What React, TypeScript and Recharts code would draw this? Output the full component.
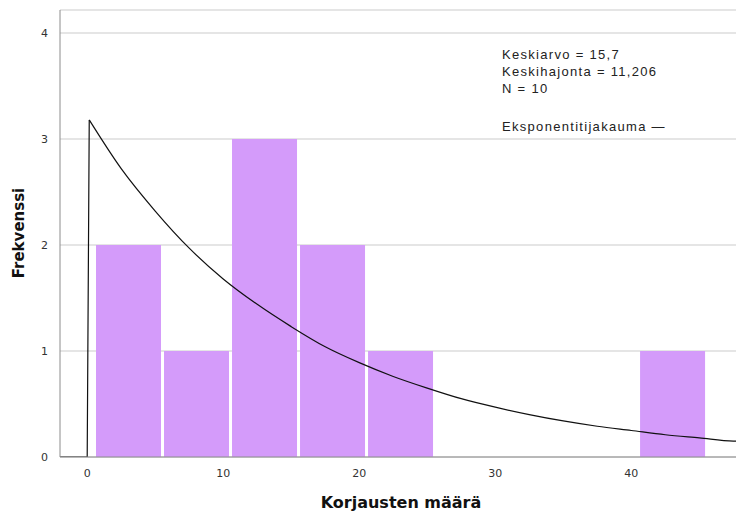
import { ComposedChart, Bar, Line, XAxis, YAxis, CartesianGrid } from 'recharts';

// histogram bins (centres of 0.5–5.5, 5.5–10.5, ...) and counts
const binCenters = [3, 8, 13, 18, 23, 28, 33, 38, 43];
const binCounts = [2, 1, 3, 2, 1, 0, 0, 0, 1];

// fitted exponential curve
const riseX = [-2, 0, 0.15];
const riseY = [0, 0, 3.18];
const curveX = [0.15, 2.5, 5, 7.5, 10, 12.5, 15, 17.5, 20, 22.5, 25, 27.5, 30, 32.5, 35, 37.5, 40, 42.5, 45, 47.5, 48];
const curveY = [3.18, 2.72, 2.32, 1.97, 1.68, 1.44, 1.23, 1.04, 0.89, 0.76, 0.65, 0.55, 0.47, 0.4, 0.34, 0.29, 0.25, 0.21, 0.18, 0.15, 0.15];

const xTicks = [0, 10, 20, 30, 40];
const yTicks = [0, 1, 2, 3, 4];

const statLines = ['Keskiarvo = 15,7', 'Keskihajonta = 11,206', 'N = 10'];

const bins = binCenters.map((x, i) => ({ x, count: binCounts[i] }));
const rise = riseX.map((x, i) => ({ x, y: riseY[i] }));
const curve = curveX.map((x, i) => ({ x, y: curveY[i] }));

const xDomain: [number, number] = [-2, 47.7];
const tickStyle = { fontFamily: 'DejaVu Sans', fontSize: 11, fill: '#333' };
const statStyle = {
  position: 'absolute' as const,
  left: 502,
  fontFamily: 'Liberation Sans, Arial',
  fontSize: 13,
  letterSpacing: 1.3,
  color: '#222',
  whiteSpace: 'nowrap' as const,
  lineHeight: '17px',
};

export default function App() {
  return (
    <div style={{ position: 'absolute', left: 0, top: 0, width: 736, height: 518, background: '#fff' }}>
      <ComposedChart
        width={736}
        height={518}
        data={bins}
        margin={{ top: 10, right: 0, left: 0, bottom: 0 }}
      >
        <CartesianGrid vertical={false} stroke="#dcdcdc" strokeWidth={1.5} />
        <XAxis
          xAxisId="bins"
          dataKey="x"
          type="number"
          domain={xDomain}
          allowDataOverflow
          hide
        />
        <XAxis
          dataKey="x"
          type="number"
          domain={xDomain}
          allowDataOverflow
          ticks={xTicks}
          tickLine={false}
          axisLine={{ stroke: '#8c8c8c' }}
          tick={tickStyle}
          tickMargin={6}
          height={61}
        />
        <YAxis
          type="number"
          domain={[0, 4.217]}
          allowDataOverflow
          ticks={yTicks}
          tickLine={false}
          axisLine={{ stroke: '#8c8c8c' }}
          tick={tickStyle}
          tickMargin={6}
          width={60}
        />
        <Bar xAxisId="bins" dataKey="count" fill="#d49bfa" barSize={65} isAnimationActive={false} />
        <Line
          data={rise}
          dataKey="y"
          type="linear"
          stroke="#111"
          strokeWidth={1.2}
          dot={false}
          activeDot={false}
          isAnimationActive={false}
        />
        <Line
          data={curve}
          dataKey="y"
          type="monotone"
          stroke="#111"
          strokeWidth={1.2}
          dot={false}
          activeDot={false}
          isAnimationActive={false}
        />
      </ComposedChart>

      <div style={{ ...statStyle, top: 46 }}>
        {statLines.map((s) => (
          <div key={s}>{s}</div>
        ))}
      </div>
      <div style={{ ...statStyle, top: 118 }}>Eksponentitijakauma —</div>

      <div
        style={{
          position: 'absolute',
          left: 19,
          top: 233,
          transform: 'translate(-50%, -50%) rotate(-90deg)',
          fontFamily: 'DejaVu Sans',
          fontWeight: 'bold',
          fontSize: 15,
          color: '#111',
          whiteSpace: 'nowrap',
        }}
      >
        Frekvenssi
      </div>
      <div
        style={{
          position: 'absolute',
          left: 401,
          top: 502,
          transform: 'translate(-50%, -50%)',
          fontFamily: 'DejaVu Sans',
          fontWeight: 'bold',
          fontSize: 16,
          color: '#111',
          whiteSpace: 'nowrap',
        }}
      >
        Korjausten määrä
      </div>
    </div>
  );
}
